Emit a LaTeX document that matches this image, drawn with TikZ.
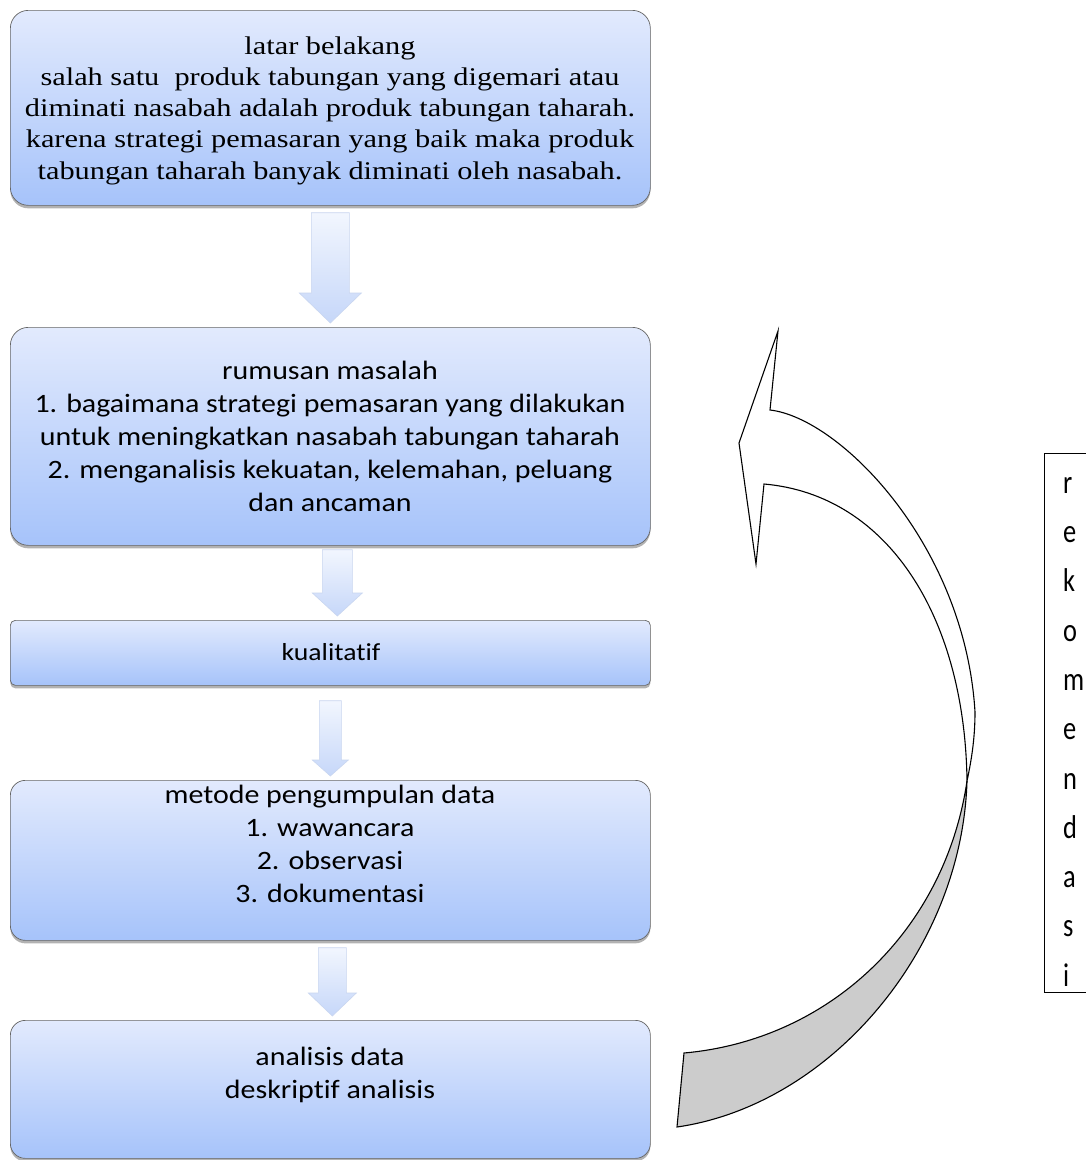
\documentclass[tikz,border=0pt]{standalone}
\usepackage{fontspec}
\setmainfont[FakeStretch=1.19]{Liberation Serif}
\newfontfamily\calfont[Ligatures=NoCommon,FakeStretch=1.13]{Carlito}
\newfontfamily\recfont[Ligatures=NoCommon,FakeStretch=0.8]{Carlito}
\usetikzlibrary{shadows,calc}
\definecolor{boxtop}{HTML}{E2EAFD}
\definecolor{boxbot}{HTML}{A6C3FA}
\definecolor{arrtop}{HTML}{F2F6FE}
\definecolor{arrbot}{HTML}{C6D7F9}
\definecolor{arrline}{HTML}{C9D6F0}
\newcommand\blockarrow[7]{%
  \path[arr] ($(#1.south)+(#7-#3,#5)$) -- ($(#1.south)+(#7+#3,#5)$)
    -- ($(#2.north)+(#7+#3,-#6)$) -- ($(#2.north)+(#7+#4,-#6)$)
    -- ($(#2.north)+(#7,-4)$) -- ($(#2.north)+(#7-#4,-#6)$)
    -- ($(#2.north)+(#7-#3,-#6)$) -- cycle;}
\begin{document}
\begin{tikzpicture}[x=1pt,y=-1pt,
  box/.style={draw=black!60, line width=0.7pt, top color=boxtop, bottom color=boxbot,
    minimum width=640pt, anchor=north west, inner sep=0pt,
    drop shadow={shadow xshift=0pt, shadow yshift=-3pt, opacity=0.3, fill=black}},
  arr/.style={draw=arrline, line width=0.6pt, top color=arrtop, bottom color=arrbot},
  sertext/.style={font=\fontsize{25.5}{31.3}\selectfont, align=center, inner sep=0pt},
  caltext/.style={font=\calfont\fontsize{26.5}{33}\selectfont, align=center, inner sep=0pt},
  curved/.style={draw=black, line width=1.1pt, line join=miter}]
\useasboundingbox (0,0) rectangle (1085,1160);
\fill[white] (0,0) rectangle (1085,1160);

% boxes
\node[box, rounded corners=18pt, minimum height=195pt] (b1) at (10,10) {};
\node[box, rounded corners=18pt, minimum height=218pt] (b2) at (10,327) {};
\node[box, rounded corners=5pt, minimum height=65pt] (b3) at (10,620) {};
\node[box, rounded corners=15pt, minimum height=160pt] (b4) at (10,780) {};
\node[box, rounded corners=15pt, minimum height=138pt] (b5) at (10,1020) {};

% texts
\node[sertext] (t1) at (330,110.5) {latar belakang\\
salah satu\ \ produk tabungan yang digemari atau\\
diminati nasabah adalah produk tabungan taharah.\\
karena strategi pemasaran yang baik maka produk\\
tabungan taharah banyak diminati oleh nasabah.};
\node[caltext] (t2) at (330,436) {rumusan masalah\\
1. bagaimana strategi pemasaran yang dilakukan\\
untuk meningkatkan nasabah tabungan taharah\\
2. menganalisis kekuatan, kelemahan, peluang\\
dan ancaman};
\node[caltext, font=\calfont\fontsize{24.5}{28}\selectfont] (t3) at (331,652) {kualitatif};
\node[caltext] (t4) at (330,844) {metode pengumpulan data\\
1. wawancara\\
2. observasi\\
3. dokumentasi};
\node[caltext] (t5) at (330,1075) {analisis data\\
deskriptif analisis};

% block arrows
\blockarrow{b1}{b2}{19}{31}{7}{34}{0}
\blockarrow{b2}{b3}{15}{25}{4}{27}{7}
\blockarrow{b3}{b4}{11}{18}{15}{20}{0}
\blockarrow{b4}{b5}{14}{24}{7}{27}{2}

% curved arrow
\coordinate (tb) at (778,331);
\coordinate (un) at (770,410);
\coordinate (tip) at (739,443);
\coordinate (lb) at (756,564);
\coordinate (ln) at (764,484);
\coordinate (om) at (975,712);
\coordinate (cx) at (967,781);
\coordinate (be) at (677,1127);
\coordinate (te) at (684,1053);
\filldraw[curved, fill=black!20] (cx) .. controls (962,950) and (830,1105) .. (be) -- (te)
  .. controls (830,1040) and (945,930) .. (cx) -- cycle;
\filldraw[curved, fill=white] (un) .. controls (840,418) and (965,545) .. (om)
  .. controls (975,740) and (971,762) .. (cx)
  .. controls (965,620) and (890,495) .. (ln) -- (lb) -- (tip) -- (tb) -- cycle;

% vertical text box
\draw[line width=0.8pt] (1095,453) -- (1044,453) -- (1044,992) -- (1095,992);
\node[anchor=north west, inner sep=0pt, align=left, font=\recfont\fontsize{33}{49.3}\selectfont] (rek) at (1063,477) {r\\e\\k\\o\\m\\e\\n\\d\\a\\s\\i};
\end{tikzpicture}
\end{document}
